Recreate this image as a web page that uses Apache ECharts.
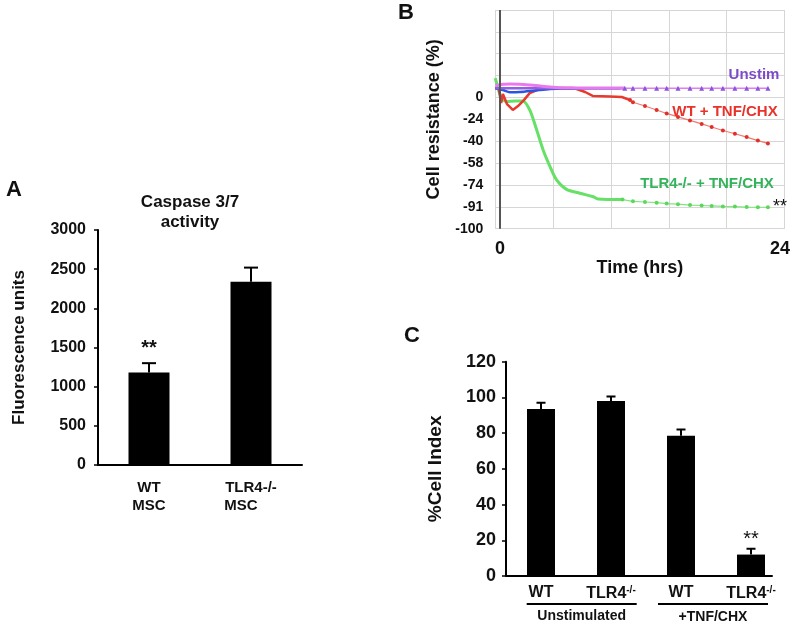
<!DOCTYPE html>
<html>
<head>
<meta charset="utf-8">
<script src="https://cdn.jsdelivr.net/npm/echarts@6/dist/echarts.min.js"></script>
<style>
html, body { margin: 0; padding: 0; background: #fff; }
#chart { width: 800px; height: 627px; }
</style>
</head>
<body>
<div id="chart"></div>
<script>
// A: caspase 3/7 activity
const aCategories = ['WT\nMSC', 'TLR4-/-\nMSC'];
const aValues = [1180, 2340];
const aErrors = [120, 180];

// B: cell resistance over time. y is in gridline steps because the
// printed tick labels are not evenly spaced
const bYLabels = ['-100', '-91', '-74', '-58', '-40', '-24', '0'];
const bUnstimPink = [[-0.4, 6.55], [0.3, 6.6], [0.9, 6.62], [1.7, 6.61], [2.6, 6.57], [3.5, 6.52], [4.3, 6.48],
  [5.2, 6.45], [6.2, 6.44], [7.5, 6.43], [9, 6.43], [10.7, 6.43]];
const bUnstimDense = [[-0.4, 6.42], [2, 6.42], [5, 6.42], [8, 6.42], [10.7, 6.42]];
const bUnstimSparse = [[10.7, 6.42], [11.4, 6.42], [12.43, 6.42], [13.43, 6.42], [14.29, 6.42], [15.26, 6.42],
  [16.29, 6.42], [17.29, 6.42], [18.15, 6.42], [19.11, 6.42], [20.14, 6.42], [21.15, 6.42], [22.11, 6.42], [22.97, 6.42]];
const bBlue = [[-0.4, 6.43], [0.25, 6.34], [0.85, 6.24], [1.7, 6.25], [3.0, 6.32], [4.3, 6.39], [6.0, 6.41],
  [7.7, 6.42], [10.3, 6.42]];
const bWtDense = [[-0.4, 6.43], [-0.1, 6.39], [0.1, 5.75], [0.25, 6.16], [0.6, 5.7], [1.1, 5.43], [1.55, 5.61],
  [2.05, 5.88], [2.55, 6.2], [3.45, 6.39], [5.15, 6.43], [6.45, 6.41], [7.3, 6.25], [7.95, 6.07], [9.45, 6.04],
  [10.45, 6.02], [11.15, 5.88]];
const bWtSparse = [[11.15, 5.88], [11.4, 5.78], [12.43, 5.61], [13.43, 5.43], [14.29, 5.27], [15.26, 5.11],
  [16.29, 4.95], [17.29, 4.79], [18.15, 4.65], [19.11, 4.49], [20.14, 4.34], [21.15, 4.19], [22.11, 4.03], [22.97, 3.9]];
const bKoDense = [[-0.4, 6.89], [0.15, 5.96], [0.6, 5.81], [1.3, 5.84], [1.95, 5.84], [2.55, 5.43], [3.15, 4.51],
  [3.7, 3.6], [4.3, 2.83], [4.85, 2.23], [5.7, 1.8], [6.85, 1.62], [8.0, 1.46], [8.4, 1.36], [10.5, 1.33]];
const bKoSparse = [[10.5, 1.33], [11.4, 1.25], [12.43, 1.22], [13.43, 1.19], [14.29, 1.15], [15.26, 1.12],
  [16.29, 1.08], [17.29, 1.06], [18.15, 1.04], [19.11, 1.02], [20.14, 1.01], [21.15, 0.99], [22.11, 0.98], [22.97, 0.98]];

// C: % cell index
const cCategories = ['WT', 'TLR4', 'WT', 'TLR4'];
const cValues = [93.5, 98, 78.5, 12];
const cErrors = [3.5, 2.5, 3.5, 3.2];
const cGroups = ['Unstimulated', '+TNF/CHX'];

const FONT = 'Liberation Sans, Arial, Helvetica, sans-serif';
const INK = '#111';

// upper error bar: dims are [x, mean, mean + error]
function errorBar(capHalf) {
  return function (params, api) {
    const base = api.coord([api.value(0), api.value(1)]);
    const top = api.coord([api.value(0), api.value(2)]);
    const style = { stroke: '#000', lineWidth: 2 };
    return {
      type: 'group',
      children: [
        { type: 'line', shape: { x1: base[0], y1: base[1], x2: top[0], y2: top[1] }, style },
        { type: 'line', shape: { x1: top[0] - capHalf, y1: top[1], x2: top[0] + capHalf, y2: top[1] }, style }
      ]
    };
  };
}

function txt(x, y, text, font, fill) {
  return {
    type: 'text', x, y, z: 100, silent: true,
    style: { text, font: font + ' ' + FONT, fill: fill || INK, align: 'center', verticalAlign: 'middle', lineHeight: 20 }
  };
}

function hline(x1, x2, y) {
  return { type: 'line', z: 100, silent: true, shape: { x1, y1: y, x2, y2: y }, style: { stroke: '#000', lineWidth: 2 } };
}

const blackAxis = { show: true, onZero: false, lineStyle: { color: '#000', width: 2 } };
const blackTick = { show: true, length: 4, lineStyle: { color: '#000', width: 1.5 } };
const noAxisLine = { show: false, onZero: false };

const chart = echarts.init(document.getElementById('chart'));

chart.setOption({
  animation: false,
  backgroundColor: '#fff',
  textStyle: { fontFamily: FONT },
  grid: [
    { left: 98, top: 230, width: 204, height: 235, outerBoundsMode: 'none' },
    { left: 495.3, top: 10, width: 289.3, height: 218.7, outerBoundsMode: 'none' },
    { left: 506, top: 361.7, width: 266, height: 214.3, outerBoundsMode: 'none' }
  ],
  xAxis: [
    {
      gridIndex: 0, type: 'category', data: aCategories,
      axisLine: blackAxis, axisTick: { show: false },
      axisLabel: {
        color: INK, fontWeight: 'bold', fontSize: 15, lineHeight: 18, margin: 14,
        // second line of the knockout label sits flush left under the first
        formatter: v => v.startsWith('TLR4') ? v.replace('\nMSC', '\n{m|MSC}') : v,
        rich: { m: { color: INK, fontWeight: 'bold', fontSize: 15, lineHeight: 18, padding: [0, 20, 0, 0] } }
      }
    },
    {
      gridIndex: 1, type: 'value', min: -0.4, max: 24.4, interval: 0.4,
      axisLine: noAxisLine, axisTick: { show: false }, splitLine: { show: false },
      axisLabel: {
        color: INK, fontWeight: 'bold', fontSize: 18, margin: 11,
        formatter: v => (Math.abs(v) < 1e-6 || Math.abs(v - 24) < 1e-6) ? String(Math.round(v)) : ''
      },
      name: 'Time (hrs)', nameLocation: 'middle', nameGap: 11,
      nameTextStyle: { color: INK, fontWeight: 'bold', fontSize: 18 }
    },
    {
      // vertical gridlines of panel B
      gridIndex: 1, type: 'value', min: 0, max: 5, interval: 1, position: 'top',
      axisLine: noAxisLine, axisTick: { show: false }, axisLabel: { show: false },
      splitLine: { show: true, lineStyle: { color: '#d6d6d6', width: 1 } }
    },
    {
      gridIndex: 2, type: 'value', min: -0.5, max: 3.3, interval: 0.5,
      axisLine: blackAxis, axisTick: { show: false }, splitLine: { show: false },
      axisLabel: {
        color: INK, fontWeight: 'bold', fontSize: 16, margin: 9,
        formatter: v => {
          const i = Math.round(v);
          if (Math.abs(v - i) > 1e-6 || i < 0 || i >= cCategories.length) return '';
          return cCategories[i] === 'TLR4' ? 'TLR4{sup|-/-}' : cCategories[i];
        },
        rich: { sup: { fontSize: 10, fontWeight: 'bold', color: INK, verticalAlign: 'top', padding: [0, 0, 7, 0] } }
      }
    }
  ],
  yAxis: [
    {
      gridIndex: 0, type: 'value', min: 0, max: 3000, interval: 500,
      axisLine: blackAxis, axisTick: blackTick, splitLine: { show: false },
      axisLabel: { color: INK, fontWeight: 'bold', fontSize: 16, margin: 12, formatter: v => String(v) },
      name: 'Fluorescence units', nameLocation: 'middle', nameGap: 70,
      nameTextStyle: { color: INK, fontWeight: 'bold', fontSize: 17 }
    },
    {
      gridIndex: 1, type: 'value', min: 0, max: 10, interval: 1,
      axisLine: noAxisLine, axisTick: { show: false },
      splitLine: { show: true, lineStyle: { color: '#d6d6d6', width: 1 } },
      axisLabel: {
        color: INK, fontWeight: 'bold', fontSize: 14, margin: 12,
        formatter: v => bYLabels[Math.round(v)] || ''
      },
      name: 'Cell resistance (%)', nameLocation: 'middle', nameGap: 52,
      nameTextStyle: { color: INK, fontWeight: 'bold', fontSize: 18 }
    },
    {
      gridIndex: 2, type: 'value', min: 0, max: 120, interval: 20,
      axisLine: blackAxis, axisTick: blackTick, splitLine: { show: false },
      axisLabel: { color: INK, fontWeight: 'bold', fontSize: 18, margin: 10 },
      name: '%Cell Index', nameLocation: 'middle', nameGap: 61,
      nameTextStyle: { color: INK, fontWeight: 'bold', fontSize: 19 }
    }
  ],
  series: [
    // panel A
    {
      type: 'bar', xAxisIndex: 0, yAxisIndex: 0, data: aValues, barWidth: 41,
      itemStyle: { color: '#000' }
    },
    {
      type: 'custom', xAxisIndex: 0, yAxisIndex: 0, renderItem: errorBar(7), clip: true, z: 5,
      encode: { x: 0, y: [1, 2] },
      data: aValues.map((v, i) => [i, v, v + aErrors[i]])
    },
    // panel B
    {
      name: 'TLR4-/- + TNF/CHX', type: 'line', xAxisIndex: 1, yAxisIndex: 1, data: bKoDense,
      showSymbol: false, smooth: 0.3, lineStyle: { color: '#66e066', width: 3 }
    },
    {
      type: 'line', xAxisIndex: 1, yAxisIndex: 1, data: bKoSparse,
      symbol: 'circle', symbolSize: 4, itemStyle: { color: '#5cd65c' },
      lineStyle: { color: '#7ee87e', width: 1.2 }
    },
    {
      name: 'WT + TNF/CHX', type: 'line', xAxisIndex: 1, yAxisIndex: 1, data: bWtDense,
      showSymbol: false, lineStyle: { color: '#e8392e', width: 2.5 }
    },
    {
      type: 'line', xAxisIndex: 1, yAxisIndex: 1, data: bWtSparse,
      symbol: 'circle', symbolSize: 4, itemStyle: { color: '#e0302a' },
      lineStyle: { color: '#f07a70', width: 1.2 }
    },
    {
      type: 'line', xAxisIndex: 1, yAxisIndex: 1, data: bBlue,
      showSymbol: false, smooth: 0.3, lineStyle: { color: '#2a55e0', width: 2.5 },
      markLine: {
        silent: true, symbol: 'none', label: { show: false },
        lineStyle: { color: '#555', width: 2, type: 'solid' },
        data: [{ xAxis: 0 }]
      }
    },
    {
      name: 'Unstim', type: 'line', xAxisIndex: 1, yAxisIndex: 1, data: bUnstimDense,
      showSymbol: false, lineStyle: { color: '#9060e0', width: 2.5 }
    },
    {
      type: 'line', xAxisIndex: 1, yAxisIndex: 1, data: bUnstimPink,
      showSymbol: false, smooth: 0.3, lineStyle: { color: '#e87aec', width: 3 }
    },
    {
      type: 'line', xAxisIndex: 1, yAxisIndex: 1, data: bUnstimSparse,
      symbol: 'triangle', symbolSize: 5, itemStyle: { color: '#8a55dc' },
      lineStyle: { color: '#e080ea', width: 1.5 }
    },
    // panel C
    {
      type: 'bar', xAxisIndex: 3, yAxisIndex: 2, barWidth: 28,
      itemStyle: { color: '#000' },
      data: cValues.map((v, i) => [i, v])
    },
    {
      type: 'custom', xAxisIndex: 3, yAxisIndex: 2, renderItem: errorBar(4.5), clip: true, z: 5,
      encode: { x: 0, y: [1, 2] },
      data: cValues.map((v, i) => [i, v, v + cErrors[i]])
    }
  ],
  graphic: [
    txt(14, 190, 'A', 'bold 22px'),
    txt(190, 212, 'Caspase 3/7\nactivity', 'bold 17px'),
    txt(149, 348, '**', 'bold 20px'),
    txt(406, 13, 'B', 'bold 22px'),
    txt(754, 75, 'Unstim', 'bold 15px', '#7b4cc8'),
    txt(725, 112, 'WT + TNF/CHX', 'bold 15px', '#e8322a'),
    txt(707, 184, 'TLR4-/- + TNF/CHX', 'bold 15px', '#33b35a'),
    txt(780, 207, '**', '18px'),
    txt(412, 336, 'C', 'bold 22px'),
    txt(751, 539, '**', '20px'),
    hline(526.7, 636.7, 604),
    hline(658, 768, 604),
    txt(581.7, 616.5, cGroups[0], 'bold 14px'),
    txt(713, 617.5, cGroups[1], 'bold 14px')
  ]
});
</script>
</body>
</html>
